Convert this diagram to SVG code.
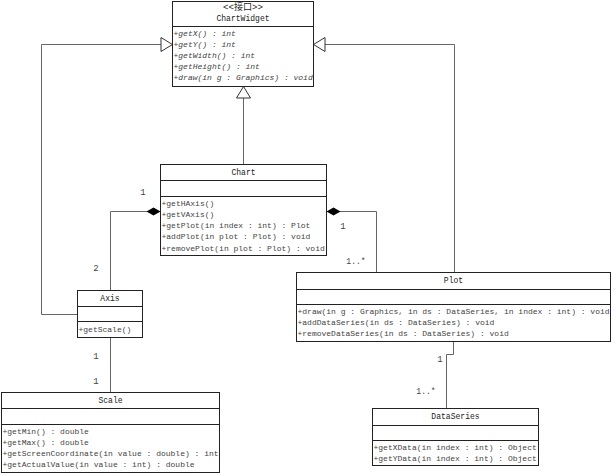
<svg xmlns="http://www.w3.org/2000/svg" width="611" height="474" viewBox="0 0 611 474">
<style>
.box{fill:#fff;stroke:#222;stroke-width:1}
.dv{stroke:#222;stroke-width:1}
text{font-family:"Liberation Mono","Noto Sans CJK SC",monospace;font-size:8px;dominant-baseline:central}
.t{fill:#222;text-anchor:middle;font-size:9px}
.m{fill:#444}
.i{font-style:italic}
.c{fill:none;stroke:#666;stroke-width:1}
.lbl{fill:#444;text-anchor:middle;font-size:9px}
</style>
<defs>
<marker id="gen" markerUnits="userSpaceOnUse" markerWidth="14" markerHeight="16" refX="12" refY="8" orient="auto" overflow="visible">
<path d="M0.5,1 L12,8 L0.5,15 Z" fill="#fff" stroke="#333" stroke-width="1"/>
</marker>
<marker id="comp" markerUnits="userSpaceOnUse" markerWidth="16" markerHeight="10" refX="0" refY="5" orient="auto" overflow="visible">
<path d="M0,5 L7,1 L14,5 L7,9 Z" fill="#000"/>
</marker>
</defs>
<rect width="611" height="474" fill="#fff"/>

<g id="connectors">
<polyline class="c" points="77.5,314.5 41.5,314.5 41.5,44.5 172.5,44.5" marker-end="url(#gen)"/>
<polyline class="c" points="454.5,272.5 454.5,44.5 313.5,44.5" marker-end="url(#gen)"/>
<line class="c" x1="243.5" y1="164.5" x2="243.5" y2="86.5" marker-end="url(#gen)"/>
<polyline class="c" points="160.5,211.5 110.5,211.5 110.5,290.5" marker-start="url(#comp)"/>
<polyline class="c" points="326.5,211.5 376.5,211.5 376.5,272.5" marker-start="url(#comp)"/>
<line class="c" x1="110.5" y1="337.5" x2="110.5" y2="392.5"/>
<polyline class="c" points="453.5,341.5 453.5,354.5 446.5,354.5 446.5,408.5"/>
<text class="lbl" x="143" y="193">1</text>
<text class="lbl" x="96" y="269">2</text>
<text class="lbl" x="343" y="227">1</text>
<text class="lbl" x="356" y="262" textLength="19.3" lengthAdjust="spacingAndGlyphs">1..*</text>
<text class="lbl" x="96" y="357">1</text>
<text class="lbl" x="96" y="382">1</text>
<text class="lbl" x="440" y="360">1</text>
<text class="lbl" x="426" y="392" textLength="19.3" lengthAdjust="spacingAndGlyphs">1..*</text>
</g>

<g id="ChartWidget">
<rect class="box" x="172.5" y="1.5" width="141" height="85"/>
<line class="dv" x1="172.5" y1="26.5" x2="313.5" y2="26.5"/>
<text class="t" x="243" y="7.5" textLength="40" lengthAdjust="spacingAndGlyphs">&lt;&lt;接口&gt;&gt;</text>
<text class="t" x="243" y="19" textLength="53.1" lengthAdjust="spacingAndGlyphs">ChartWidget</text>
<text class="m i" x="173.5" y="33">+getX() : int</text>
<text class="m i" x="173.5" y="44.2">+getY() : int</text>
<text class="m i" x="173.5" y="55.4">+getWidth() : int</text>
<text class="m i" x="173.5" y="66.6">+getHeight() : int</text>
<text class="m i" x="173.5" y="77.8">+draw(in g : Graphics) : void</text>
</g>

<g id="Chart">
<rect class="box" x="160.5" y="164.5" width="166" height="91"/>
<line class="dv" x1="160.5" y1="180.5" x2="326.5" y2="180.5"/>
<line class="dv" x1="160.5" y1="196.5" x2="326.5" y2="196.5"/>
<text class="t" x="243.5" y="172.5" textLength="24.2" lengthAdjust="spacingAndGlyphs">Chart</text>
<text class="m" x="161.5" y="203">+getHAxis()</text>
<text class="m" x="161.5" y="214.3">+getVAxis()</text>
<text class="m" x="161.5" y="225.6">+getPlot(in index : int) : Plot</text>
<text class="m" x="161.5" y="236.9">+addPlot(in plot : Plot) : void</text>
<text class="m" x="161.5" y="248.2">+removePlot(in plot : Plot) : void</text>
</g>

<g id="Axis">
<rect class="box" x="77.5" y="290.5" width="65" height="47"/>
<line class="dv" x1="77.5" y1="306.5" x2="142.5" y2="306.5"/>
<line class="dv" x1="77.5" y1="321.5" x2="142.5" y2="321.5"/>
<text class="t" x="110" y="298.5" textLength="19.3" lengthAdjust="spacingAndGlyphs">Axis</text>
<text class="m" x="78.5" y="329">+getScale()</text>
</g>

<g id="Scale">
<rect class="box" x="1.5" y="392.5" width="218" height="80"/>
<line class="dv" x1="1.5" y1="408.5" x2="219.5" y2="408.5"/>
<line class="dv" x1="1.5" y1="424.5" x2="219.5" y2="424.5"/>
<text class="t" x="110.5" y="400.5" textLength="24.2" lengthAdjust="spacingAndGlyphs">Scale</text>
<text class="m" x="2.5" y="431">+getMin() : double</text>
<text class="m" x="2.5" y="442.3">+getMax() : double</text>
<text class="m" x="2.5" y="453.6">+getScreenCoordinate(in value : double) : int</text>
<text class="m" x="2.5" y="464.9">+getActualValue(in value : int) : double</text>
</g>

<g id="Plot">
<rect class="box" x="296.5" y="272.5" width="314" height="69"/>
<line class="dv" x1="296.5" y1="289.5" x2="610.5" y2="289.5"/>
<line class="dv" x1="296.5" y1="304.5" x2="610.5" y2="304.5"/>
<text class="t" x="453.5" y="281" textLength="19.3" lengthAdjust="spacingAndGlyphs">Plot</text>
<text class="m" x="297.5" y="311.3">+draw(in g : Graphics, in ds : DataSeries, in index : int) : void</text>
<text class="m" x="297.5" y="322.5">+addDataSeries(in ds : DataSeries) : void</text>
<text class="m" x="297.5" y="333.7">+removeDataSeries(in ds : DataSeries) : void</text>
</g>

<g id="DataSeries">
<rect class="box" x="372.5" y="408.5" width="166" height="57"/>
<line class="dv" x1="372.5" y1="425.5" x2="538.5" y2="425.5"/>
<line class="dv" x1="372.5" y1="440.5" x2="538.5" y2="440.5"/>
<text class="t" x="455.5" y="417" textLength="48.3" lengthAdjust="spacingAndGlyphs">DataSeries</text>
<text class="m" x="373.5" y="447.5">+getXData(in index : int) : Object</text>
<text class="m" x="373.5" y="458.7">+getYData(in index : int) : Object</text>
</g>
</svg>
